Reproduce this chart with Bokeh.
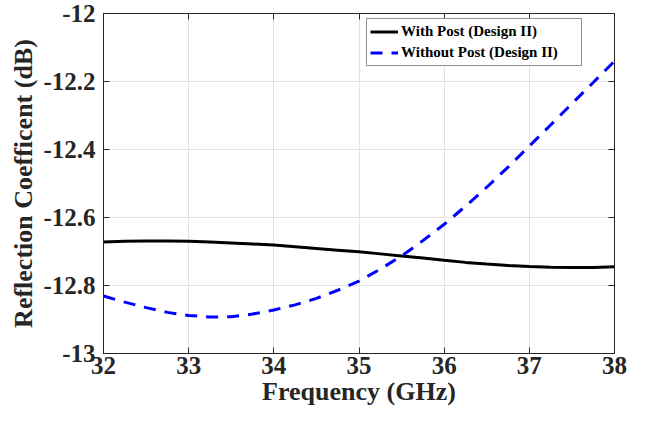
from bokeh.plotting import figure
from bokeh.models import LinearAxis, Range1d, FixedTicker, Legend, LegendItem
from bokeh.embed import file_html
from bokeh.resources import INLINE

freq = [32.00, 32.25, 32.50, 32.75, 33.00, 33.25, 33.50, 33.75, 34.00, 34.25, 34.50, 34.75,
        35.00, 35.25, 35.50, 35.75, 36.00, 36.25, 36.50, 36.75, 37.00, 37.25, 37.50, 37.75, 38.00]
with_post = [-12.672, -12.670, -12.669, -12.669, -12.670, -12.672, -12.675, -12.678, -12.681,
             -12.686, -12.691, -12.696, -12.701, -12.707, -12.713, -12.719, -12.726, -12.732,
             -12.737, -12.741, -12.744, -12.746, -12.747, -12.747, -12.745]
without_post = [-12.831, -12.849, -12.865, -12.879, -12.888, -12.893, -12.892, -12.884, -12.872,
                -12.857, -12.838, -12.814, -12.787, -12.752, -12.713, -12.668, -12.620, -12.567,
                -12.511, -12.452, -12.390, -12.328, -12.265, -12.203, -12.140]
x_ticks = [32, 33, 34, 35, 36, 37, 38]
y_ticks = [-13, -12.8, -12.6, -12.4, -12.2, -12]
y_labels = {-13: "-13", -12.8: "-12.8", -12.6: "-12.6", -12.4: "-12.4", -12.2: "-12.2", -12: "-12"}

FONT = "Liberation Serif"

p = figure(width=630, height=418, output_backend="svg", toolbar_location=None,
           x_range=Range1d(32, 38), y_range=Range1d(-13, -12),
           min_border_left=103, min_border_right=16, min_border_top=13, min_border_bottom=65)
p.background_fill_color = "white"
p.border_fill_color = "white"
p.outline_line_color = "#262626"
p.outline_line_width = 1

l1 = p.line(freq, with_post, line_color="black", line_width=3)
l2 = p.line(freq, without_post, line_color="#0000ff", line_width=3, line_dash="12 9")

for ax, ticks in ((p.xaxis[0], x_ticks), (p.yaxis[0], y_ticks)):
    ax.ticker = FixedTicker(ticks=ticks)
    ax.major_tick_in = 6
    ax.major_tick_out = 0
    ax.minor_tick_line_color = None
    ax.axis_line_color = "#262626"
    ax.major_tick_line_color = "#262626"
    ax.major_label_text_font = FONT
    ax.major_label_text_font_style = "bold"
    ax.major_label_text_font_size = "25px"
    ax.major_label_text_color = "#262626"
    ax.axis_label_text_font = FONT
    ax.axis_label_text_font_style = "bold"
    ax.axis_label_text_font_size = "26px"
    ax.axis_label_text_color = "#262626"

p.yaxis[0].major_label_overrides = y_labels
p.xaxis[0].axis_label = "Frequency (GHz)"
p.yaxis[0].axis_label = "Reflection Coefficent (dB)"
p.xaxis[0].major_label_standoff = 3
p.yaxis[0].major_label_standoff = 8
p.xaxis[0].axis_label_standoff = 0
p.yaxis[0].axis_label_standoff = 2

for ticks, loc in ((x_ticks, "above"), (y_ticks, "right")):
    a = LinearAxis(ticker=FixedTicker(ticks=ticks), major_tick_in=6, major_tick_out=0,
                   minor_tick_line_color=None, axis_line_color="#262626",
                   major_tick_line_color="#262626", major_label_text_font_size="0px",
                   major_label_standoff=0)
    p.add_layout(a, loc)

p.xgrid.ticker = FixedTicker(ticks=x_ticks)
p.ygrid.ticker = FixedTicker(ticks=y_ticks)
p.grid.grid_line_color = "#e3e3e3"
p.grid.grid_line_width = 1

legend = Legend(items=[LegendItem(label="With Post (Design II)", renderers=[l1]),
                       LegendItem(label="Without Post (Design II)", renderers=[l2])],
                location=(263, 287))
legend.label_text_font = FONT
legend.label_text_font_style = "bold"
legend.label_text_font_size = "15px"
legend.label_text_color = "black"
legend.glyph_width = 28
legend.glyph_height = 19
legend.label_standoff = 3
legend.label_height = 19
legend.label_width = 177
legend.spacing = 2
legend.padding = 3
legend.margin = 0
legend.border_line_color = "#262626"
legend.border_line_width = 1
legend.background_fill_color = "white"
p.add_layout(legend, "center")

open("out.html", "w").write(file_html(p, INLINE))
